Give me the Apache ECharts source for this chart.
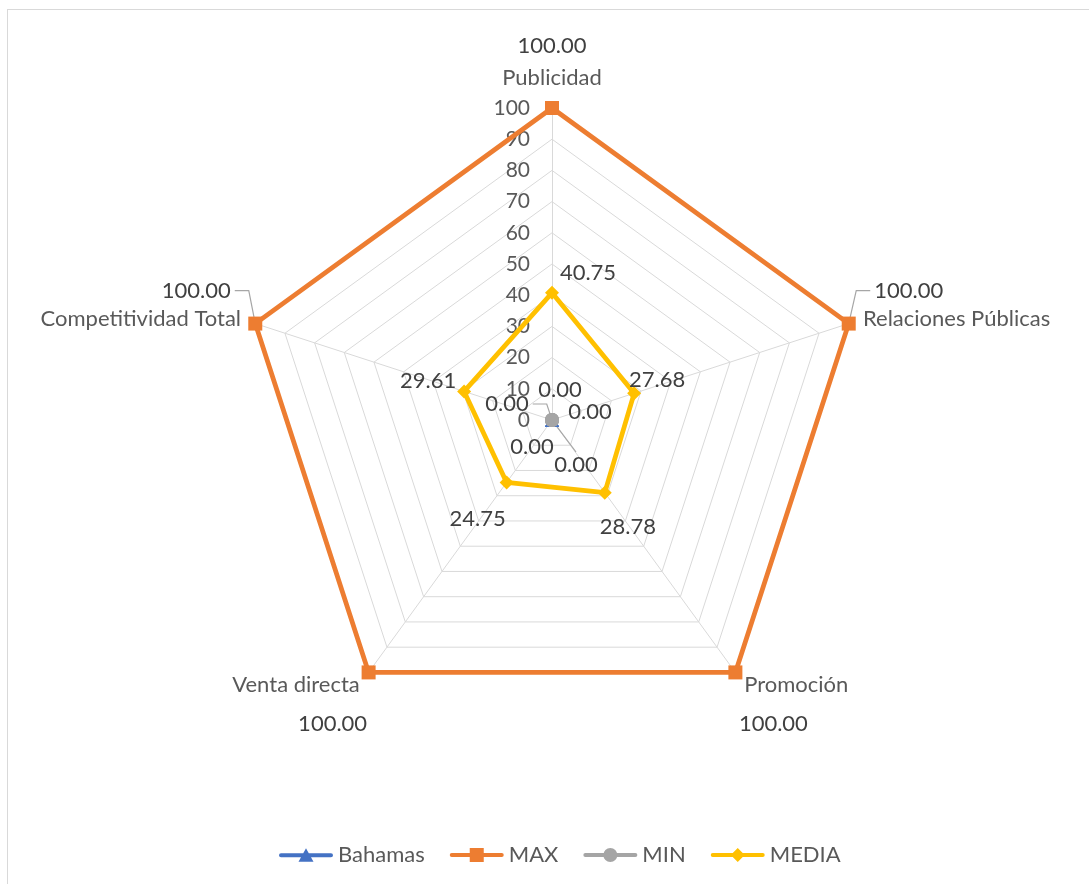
<!DOCTYPE html>
<html>
<head>
<meta charset="utf-8">
<script src="https://cdn.jsdelivr.net/npm/echarts@6/dist/echarts.min.js"></script>
<style>
  html, body { margin: 0; padding: 0; background: #fff; overflow: hidden; }
  #frame { position: absolute; left: 7px; top: 9px; width: 1400px; height: 1200px;
           border: 1px solid #d9d9d9; box-sizing: border-box; }
  #chart { position: absolute; left: 0; top: 0; width: 1089px; height: 884px; }
</style>
</head>
<body>
<div id="frame"></div>
<div id="chart"></div>
<script>
// Indicators, listed clockwise starting from the top
const categories = ['Publicidad', 'Relaciones Públicas', 'Promoción', 'Venta directa', 'Competitividad Total'];

// Series values, same order as the categories
const bahamas = [0, 0, 0, 0, 0];
const maxValues = [100, 100, 100, 100, 100];
const minValues = [0, 0, 0, 0, 0];
const media = [40.75, 27.68, 28.78, 24.75, 29.61];

// Radial scale: 0 to 100 in steps of 10
const axisMin = 0;
const axisMax = 100;
const axisStep = 10;

const FONT = 'Lato, "Open Sans", sans-serif';
const NAME_COLOR = '#595959';
const LABEL_COLOR = '#404040';
const GRID_COLOR = '#d9d9d9';
const LEADER_COLOR = '#a6a6a6';

// ECharts places indicators counter-clockwise, so feed them in reverse order
const order = [0, 4, 3, 2, 1];
const pick = arr => order.map(i => arr[i]);

// Where each value label sits relative to its marker (clockwise order)
const labelOffsets = {
  MAX:   [[0, -62], [60, -33], [38, 51], [-36, 51], [-59, -33]],
  MIN:   [[8, -30], [38, -8], [24, 45], [-20, 27], [-45, -16]],
  MEDIA: [[36, -20], [23, -13], [23, 34], [-29, 36], [-36, -11]]
};
// Labels that are joined to their marker by a thin leader line (clockwise index)
const leaders = [['MAX', 1], ['MAX', 4], ['MIN', 4], ['MIN', 2]];

// Label placement recorded during layout, used to route the leader lines
const placed = {};

function offsetLayout(name, offsets) {
  const list = pick(offsets);
  let n = 0;
  placed[name] = [];
  return function (p) {
    const k = n++ % list.length;
    const o = list[k];
    const cx = p.rect.x + p.rect.width / 2;
    const cy = p.rect.y + p.rect.height / 2;
    placed[name][order[k]] = {
      sx: cx, sy: cy, lx: cx + o[0], ly: cy + o[1],
      w: p.labelRect.width, h: p.labelRect.height
    };
    return { x: cx + o[0], y: cy + o[1], align: 'center', verticalAlign: 'middle' };
  };
}

function leaderPoints(q) {
  const dx = q.lx - q.sx;
  if (Math.abs(dx) > q.w / 2 + 4) {
    const side = dx > 0 ? -1 : 1;                 // edge of the label facing the marker
    const x0 = q.lx + side * (q.w / 2 + 4);
    const x1 = x0 + side * 14;
    return [[x0, q.ly], [x1, q.ly], [q.sx, q.sy]];
  }
  const y0 = q.ly + (q.ly > q.sy ? -(q.h / 2 + 2) : (q.h / 2 + 2));
  return [[q.lx, y0], [q.sx + (q.lx - q.sx) * 0.15, q.sy + (y0 - q.sy) * 0.15]];
}

const valueLabel = {
  show: true,
  color: LABEL_COLOR,
  fontFamily: FONT,
  fontSize: 22,
  formatter: p => Number(p.value).toFixed(2)
};

// Legend icons: a line with the series marker in the middle (54 x 14 box)
const LINE = 'M2,5 H52 A2,2 0 0 1 52,9 H2 A2,2 0 0 1 2,5 Z ';
const icons = {
  Bahamas: 'path://' + LINE + 'M27,0 L34.5,13.5 L19.5,13.5 Z',
  MAX: 'path://' + LINE + 'M20,0 H34 V14 H20 Z',
  MIN: 'path://' + LINE + 'M34,7 A7,7 0 1 1 20,7 A7,7 0 1 1 34,7 Z',
  MEDIA: 'path://' + LINE + 'M27,0 L34,7 L27,14 L20,7 Z'
};
const colors = { Bahamas: '#4472C4', MAX: '#ED7D31', MIN: '#A5A5A5', MEDIA: '#FFC000' };
const symbols = { Bahamas: 'triangle', MAX: 'rect', MIN: 'circle', MEDIA: 'diamond' };
const seriesNames = ['Bahamas', 'MAX', 'MIN', 'MEDIA'];
const seriesValues = { Bahamas: bahamas, MAX: maxValues, MIN: minValues, MEDIA: media };

function makeSeries(name) {
  const s = {
    type: 'radar',
    name: name,
    symbol: symbols[name],
    symbolSize: 14,
    itemStyle: { color: colors[name] },
    lineStyle: { color: colors[name], width: 4.75 },
    label: { show: false },
    data: [{ name: name, value: pick(seriesValues[name]) }]
  };
  if (labelOffsets[name]) {
    s.label = valueLabel;
    s.labelLayout = offsetLayout(name, labelOffsets[name]);
  }
  return s;
}

const chart = echarts.init(document.getElementById('chart'), null, { renderer: 'canvas' });
chart.setOption({
  animation: false,
  textStyle: { fontFamily: FONT },
  radar: {
    center: [552, 420],
    radius: 312,
    startAngle: 90,
    shape: 'polygon',
    splitNumber: (axisMax - axisMin) / axisStep,
    nameGap: 15,
    axisName: {
      color: NAME_COLOR,
      fontFamily: FONT,
      fontSize: 22,
      formatter: name => name === categories[0] ? '{top|' + name + '}' : name,
      rich: { top: { color: NAME_COLOR, fontFamily: FONT, fontSize: 22, padding: [0, 0, 4, 0] } }
    },
    indicator: pick(categories).map((name, i) => {
      const ind = { name: name, min: axisMin, max: axisMax };
      if (i === 0) ind.axisLabel = { show: true };
      return ind;
    }),
    axisLine: { lineStyle: { color: GRID_COLOR, width: 1 } },
    splitLine: { lineStyle: { color: GRID_COLOR, width: 1 } },
    splitArea: { show: false },
    axisTick: { show: false },
    axisLabel: { show: false, color: NAME_COLOR, fontFamily: FONT, fontSize: 21, margin: 22 }
  },
  legend: {
    top: 839,
    left: 274,
    itemWidth: 54,
    itemHeight: 14,
    itemGap: 25,
    textStyle: { color: NAME_COLOR, fontFamily: FONT, fontSize: 22 },
    data: seriesNames.map(n => ({
      name: n,
      icon: icons[n],
      itemStyle: { color: colors[n], borderWidth: 0 }
    }))
  },
  series: seriesNames.map(makeSeries)
});

// Leader lines between the moved labels and their markers
chart.setOption({
  graphic: leaders.filter(([s, i]) => placed[s] && placed[s][i]).map(([s, i]) => ({
    type: 'polyline',
    silent: true,
    z: 1,
    shape: { points: leaderPoints(placed[s][i]) },
    style: { stroke: LEADER_COLOR, lineWidth: 1.2, fill: null }
  }))
});
</script>
</body>
</html>
